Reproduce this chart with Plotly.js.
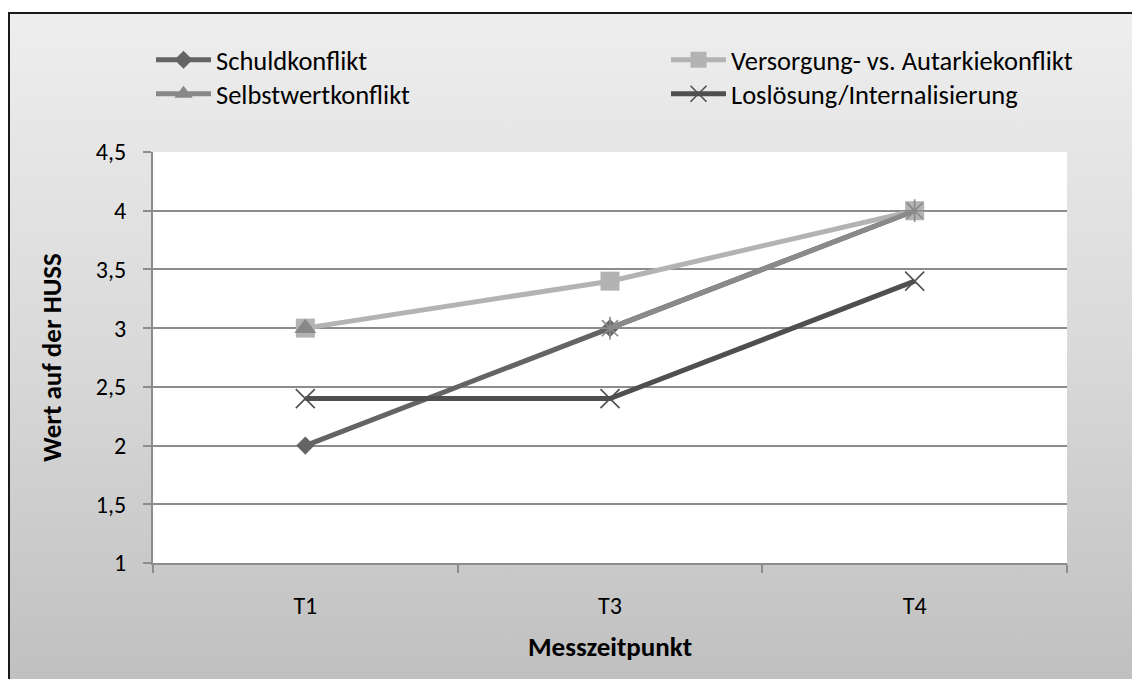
<!DOCTYPE html>
<html>
<head>
<meta charset="utf-8">
<script src="https://cdn.plot.ly/plotly-3.0.1.min.js"></script>
<style>
  html, body { margin: 0; padding: 0; background: #ffffff; }
  #frame {
    position: absolute; left: 8px; top: 12px; width: 1140px; height: 680px;
    border-left: 2px solid #1a1a1a; border-top: 2px solid #1a1a1a;
    background: linear-gradient(to bottom, #eeeeee 0%, #d9d9d9 50%, #bfbfbf 100%);
  }
  #chart { position: absolute; left: 0; top: 0; width: 1132px; height: 679px; }
</style>
</head>
<body>
<div id="frame"></div>
<div id="chart"></div>
<script>
// Measurement points
const zeitpunkte = ['T1', 'T3', 'T4'];

// Mean HUSS value per conflict at each measurement point
const schuldkonflikt   = [2.0, 3.0, 4.0];
const versorgung       = [3.0, 3.4, 4.0];
const selbstwert       = [3.0, null, null];
const losloesung       = [2.4, 2.4, 3.4];
const reihe5           = [null, 3.0, 4.0];

// Y axis tick values
const yTicks = [1, 1.5, 2, 2.5, 3, 3.5, 4, 4.5];

const FONT = 'Carlito, Calibri, "Open Sans", sans-serif';

function serie(name, y, color, symbol, size, mline, legend, showlegend) {
  return {
    type: 'scatter', mode: 'lines+markers', name: name,
    x: zeitpunkte, y: y, showlegend: showlegend, legend: legend,
    connectgaps: false,
    line: { color: color, width: 5 },
    marker: { symbol: symbol, size: size, color: color,
              line: { color: color, width: mline } }
  };
}

const traces = [
  serie('Schuldkonflikt', schuldkonflikt, '#646464', 'diamond', 14, 0, 'legend', true),
  serie('Versorgung- vs. Autarkiekonflikt', versorgung, '#b3b3b3', 'square', 19, 0, 'legend', true),
  serie('Selbstwertkonflikt', selbstwert, '#888888', 'triangle-up', 19, 0, 'legend2', true),
  serie('Loslösung/Internalisierung', losloesung, '#4f4f4f', 'x-thin-open', 19, 1.6, 'legend2', true),
  serie('Reihe 5', reihe5, '#8a8a8a', 'asterisk-open', 19, 1.6, 'legend', false)
];

// plot area in pixels: left 153, top 152, width 914, height 411
function legendRow(topPx) {
  return {
    orientation: 'h',
    xref: 'paper', yref: 'paper',
    x: (151 - 153) / 914, y: (563 - topPx) / 411, xanchor: 'left', yanchor: 'top',
    itemwidth: 55,
    entrywidth: 445, entrywidthmode: 'pixels',
    bgcolor: 'rgba(0,0,0,0)',
    font: { family: FONT, size: 26.5, color: '#000000' },
    traceorder: 'normal'
  };
}

const layout = {
  width: 1132, height: 679,
  paper_bgcolor: 'rgba(0,0,0,0)',
  plot_bgcolor: '#ffffff',
  separators: ',.',
  font: { family: FONT, size: 24, color: '#000000' },
  margin: { l: 153, r: 65, t: 152, b: 116, autoexpand: false },
  showlegend: true,
  legend: legendRow(36),
  legend2: legendRow(70),
  xaxis: {
    type: 'category',
    categoryorder: 'array', categoryarray: zeitpunkte,
    range: [-0.5, 2.5],
    tickson: 'boundaries',
    ticks: 'outside', ticklen: 8, tickwidth: 2, tickcolor: '#8c8c8c',
    ticklabelstandoff: 20,
    showline: true, linecolor: '#8c8c8c', linewidth: 2,
    showgrid: false, zeroline: false,
    tickfont: { family: FONT, size: 24, color: '#000000' },
    title: { text: '<b>Messzeitpunkt</b>', standoff: 18,
             font: { family: FONT, size: 27, color: '#000000' } }
  },
  yaxis: {
    range: [1, 4.5],
    tickvals: yTicks,
    ticks: 'outside', ticklen: 8, tickwidth: 2, tickcolor: '#8c8c8c',
    ticklabelstandoff: 12,
    showline: true, linecolor: '#8c8c8c', linewidth: 2,
    showgrid: true, gridcolor: '#8c8c8c', gridwidth: 2,
    zeroline: false,
    tickfont: { family: FONT, size: 24, color: '#000000' },
    title: { text: '<b>Wert auf der HUSS</b>', standoff: 26,
             font: { family: FONT, size: 27, color: '#000000' } }
  }
};

Plotly.newPlot('chart', traces, layout, { displayModeBar: false, staticPlot: true });
</script>
</body>
</html>
